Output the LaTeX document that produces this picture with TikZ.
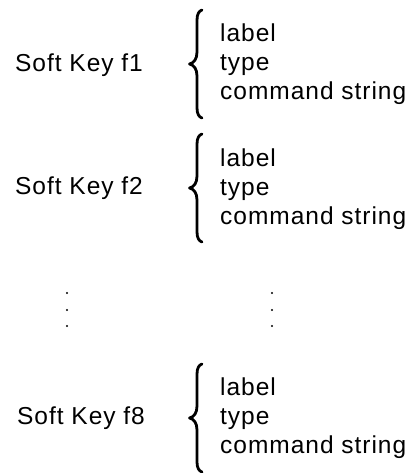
\documentclass[tikz,border=0pt]{standalone}
\usepackage{fontspec}
\setmainfont{Liberation Sans}[LetterSpace=4]
\begin{document}
\begin{tikzpicture}[x=1pt,y=-1pt,
  txt/.style={anchor=base west,inner sep=0pt,font=\fontsize{24.5}{29}\selectfont},
  bracestroke/.style={line width=2.8pt,line cap=round,line join=round},
  dotmark/.style={circle,fill=black,inner sep=0pt,minimum size=2.4pt},
  keybrace/.pic={
    \draw[bracestroke] (13,-54) .. controls (10,-53) and (8,-50) .. (8,-44) -- (8,-12)
      .. controls (8,-5) and (5,-1) .. (0.5,0)
      .. controls (5,1) and (8,5) .. (8,12) -- (8,44)
      .. controls (8,50) and (10,53) .. (13,54);
  }]
\useasboundingbox (0,0) rectangle (418,473);
% group 1
\pic at (189,64) {keybrace};
\node[txt] (k1) at (15,72) {Soft Key f1};
\node[txt] (l1) at (220,42) {label};
\node[txt] (t1) at (220,71) {type};
\node[txt] (c1) at (220,100) {command string};
% group 2
\pic at (189,188) {keybrace};
\node[txt] (k2) at (15,194) {Soft Key f2};
\node[txt] (l2) at (220,166) {label};
\node[txt] (t2) at (220,195) {type};
\node[txt] (c2) at (220,224) {command string};
% dots
\node[dotmark] (d1) at (67,293) {};
\node[dotmark] (d2) at (67,310) {};
\node[dotmark] (d3) at (67,326) {};
\node[dotmark] (e1) at (272,293) {};
\node[dotmark] (e2) at (272,310) {};
\node[dotmark] (e3) at (272,326) {};
% group 3
\pic at (189,418) {keybrace};
\node[txt] (k3) at (17,424) {Soft Key f8};
\node[txt] (l3) at (220,395) {label};
\node[txt] (t3) at (220,424) {type};
\node[txt] (c3) at (220,453) {command string};
\end{tikzpicture}
\end{document}
